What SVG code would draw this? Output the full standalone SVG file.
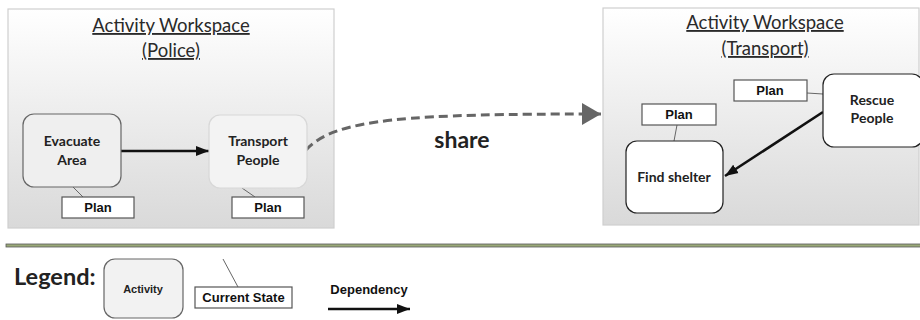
<svg xmlns="http://www.w3.org/2000/svg" width="920" height="320" viewBox="0 0 920 320">
<defs>
  <linearGradient id="panelGrad" x1="0" y1="0" x2="0" y2="1">
    <stop offset="0" stop-color="#ffffff"/>
    <stop offset="1" stop-color="#d9d9d9"/>
  </linearGradient>
  <marker id="arrowBlack" markerUnits="userSpaceOnUse" markerWidth="14" markerHeight="12" refX="13" refY="6" orient="auto">
    <path d="M0,1 L13,6 L0,11 Z" fill="#111"/>
  </marker>
  <marker id="arrowGray" markerUnits="userSpaceOnUse" markerWidth="20" markerHeight="22" refX="19" refY="11" orient="auto">
    <path d="M0,0 L19,11 L0,22 Z" fill="#666"/>
  </marker>
</defs>
<style>
  .panel { fill: url(#panelGrad); stroke: #cfcfcf; stroke-width: 1.2; }
  .title { font-family: Lato, "Open Sans", sans-serif; font-size: 18.5px; fill: #2a2a2a; text-anchor: middle; text-decoration: underline; }
  .act { font-family: Lato, "Open Sans", sans-serif; font-weight: bold; font-size: 14px; fill: #222; text-anchor: middle; }
  .state { fill: #ffffff; stroke: #555; stroke-width: 1.2; }
  .stateText { font-family: "Liberation Sans", Arial, sans-serif; font-weight: bold; font-size: 13px; fill: #111; text-anchor: middle; }
  .tie { stroke: #666; stroke-width: 1; fill: none; }
  .dep { stroke: #111; stroke-width: 2.6; fill: none; marker-end: url(#arrowBlack); }
</style>

<g id="workspace-police">
  <rect class="panel" x="8" y="9" width="326" height="219"/>
  <text class="title" x="171" y="32">Activity Workspace</text>
  <text class="title" x="171" y="57">(Police)</text>
</g>

<g id="workspace-transport">
  <rect class="panel" x="603" y="8" width="316" height="217"/>
  <text class="title" x="765" y="29">Activity Workspace</text>
  <text class="title" x="765" y="55">(Transport)</text>
</g>

<g id="connectors">
  <line class="tie" x1="72" y1="186" x2="83" y2="197"/>
  <line class="tie" x1="242" y1="188" x2="255" y2="197"/>
  <line class="tie" x1="807" y1="93" x2="823" y2="94"/>
  <line class="tie" x1="677" y1="125" x2="674" y2="141"/>
  <line class="dep" x1="121" y1="151" x2="209" y2="151"/>
  <line class="dep" x1="823" y1="112" x2="725" y2="176"/>
  <path d="M306,150 C335,118 410,114 601,114" fill="none" stroke="#666" stroke-width="3" stroke-dasharray="9,5" marker-end="url(#arrowGray)"/>
  <text x="462" y="148" font-family="Lato, 'Open Sans', sans-serif" font-weight="bold" font-size="23" fill="#222" text-anchor="middle">share</text>
</g>

<g id="evacuate-area">
  <rect x="23" y="114" width="98" height="73" rx="11" fill="#efefef" stroke="#666" stroke-width="1.2"/>
  <text class="act" x="72" y="146">Evacuate</text>
  <text class="act" x="72" y="165">Area</text>
</g>
<g id="plan-evacuate">
  <rect class="state" x="62" y="197" width="72" height="21"/>
  <text class="stateText" x="98" y="212">Plan</text>
</g>

<g id="transport-people">
  <rect x="209" y="115" width="98" height="73" rx="11" fill="#f3f3f3" stroke="#d8d8d8" stroke-width="1.2"/>
  <text class="act" x="258" y="146">Transport</text>
  <text class="act" x="258" y="165">People</text>
</g>
<g id="plan-transport">
  <rect class="state" x="232" y="197" width="72" height="21"/>
  <text class="stateText" x="268" y="212">Plan</text>
</g>

<g id="rescue-people">
  <rect x="823" y="74" width="100" height="73" rx="11" fill="#ffffff" stroke="#222" stroke-width="1.2"/>
  <text class="act" x="872" y="105">Rescue</text>
  <text class="act" x="872" y="123">People</text>
</g>
<g id="plan-rescue">
  <rect class="state" x="734" y="80" width="73" height="21"/>
  <text class="stateText" x="770" y="95">Plan</text>
</g>

<g id="find-shelter">
  <rect x="626" y="141" width="97" height="72" rx="11" fill="#ffffff" stroke="#222" stroke-width="1.2"/>
  <text class="act" x="674" y="182">Find shelter</text>
</g>
<g id="plan-find">
  <rect class="state" x="642" y="104" width="74" height="21"/>
  <text class="stateText" x="679" y="119">Plan</text>
</g>

<g id="legend">
  <rect x="6" y="244" width="916" height="3" fill="#9aa978" stroke="#5a5a5a" stroke-width="0.8"/>
  <text x="14" y="285" font-family="Lato, 'Open Sans', sans-serif" font-weight="bold" font-size="23.5" fill="#222">Legend:</text>
  <rect x="104" y="259" width="79" height="59" rx="11" fill="#f2f2f2" stroke="#666" stroke-width="1.2"/>
  <text x="143" y="293" font-family="'Liberation Sans', Arial, sans-serif" font-weight="bold" font-size="11" fill="#222" text-anchor="middle">Activity</text>
  <line class="tie" x1="223" y1="259" x2="238" y2="287"/>
  <rect class="state" x="195" y="287" width="97" height="21"/>
  <text class="stateText" x="243.5" y="302">Current State</text>
  <text x="369" y="294" font-family="'Liberation Sans', Arial, sans-serif" font-weight="bold" font-size="13" fill="#111" text-anchor="middle">Dependency</text>
  <line class="dep" x1="328" y1="309" x2="410" y2="309"/>
</g>
</svg>
